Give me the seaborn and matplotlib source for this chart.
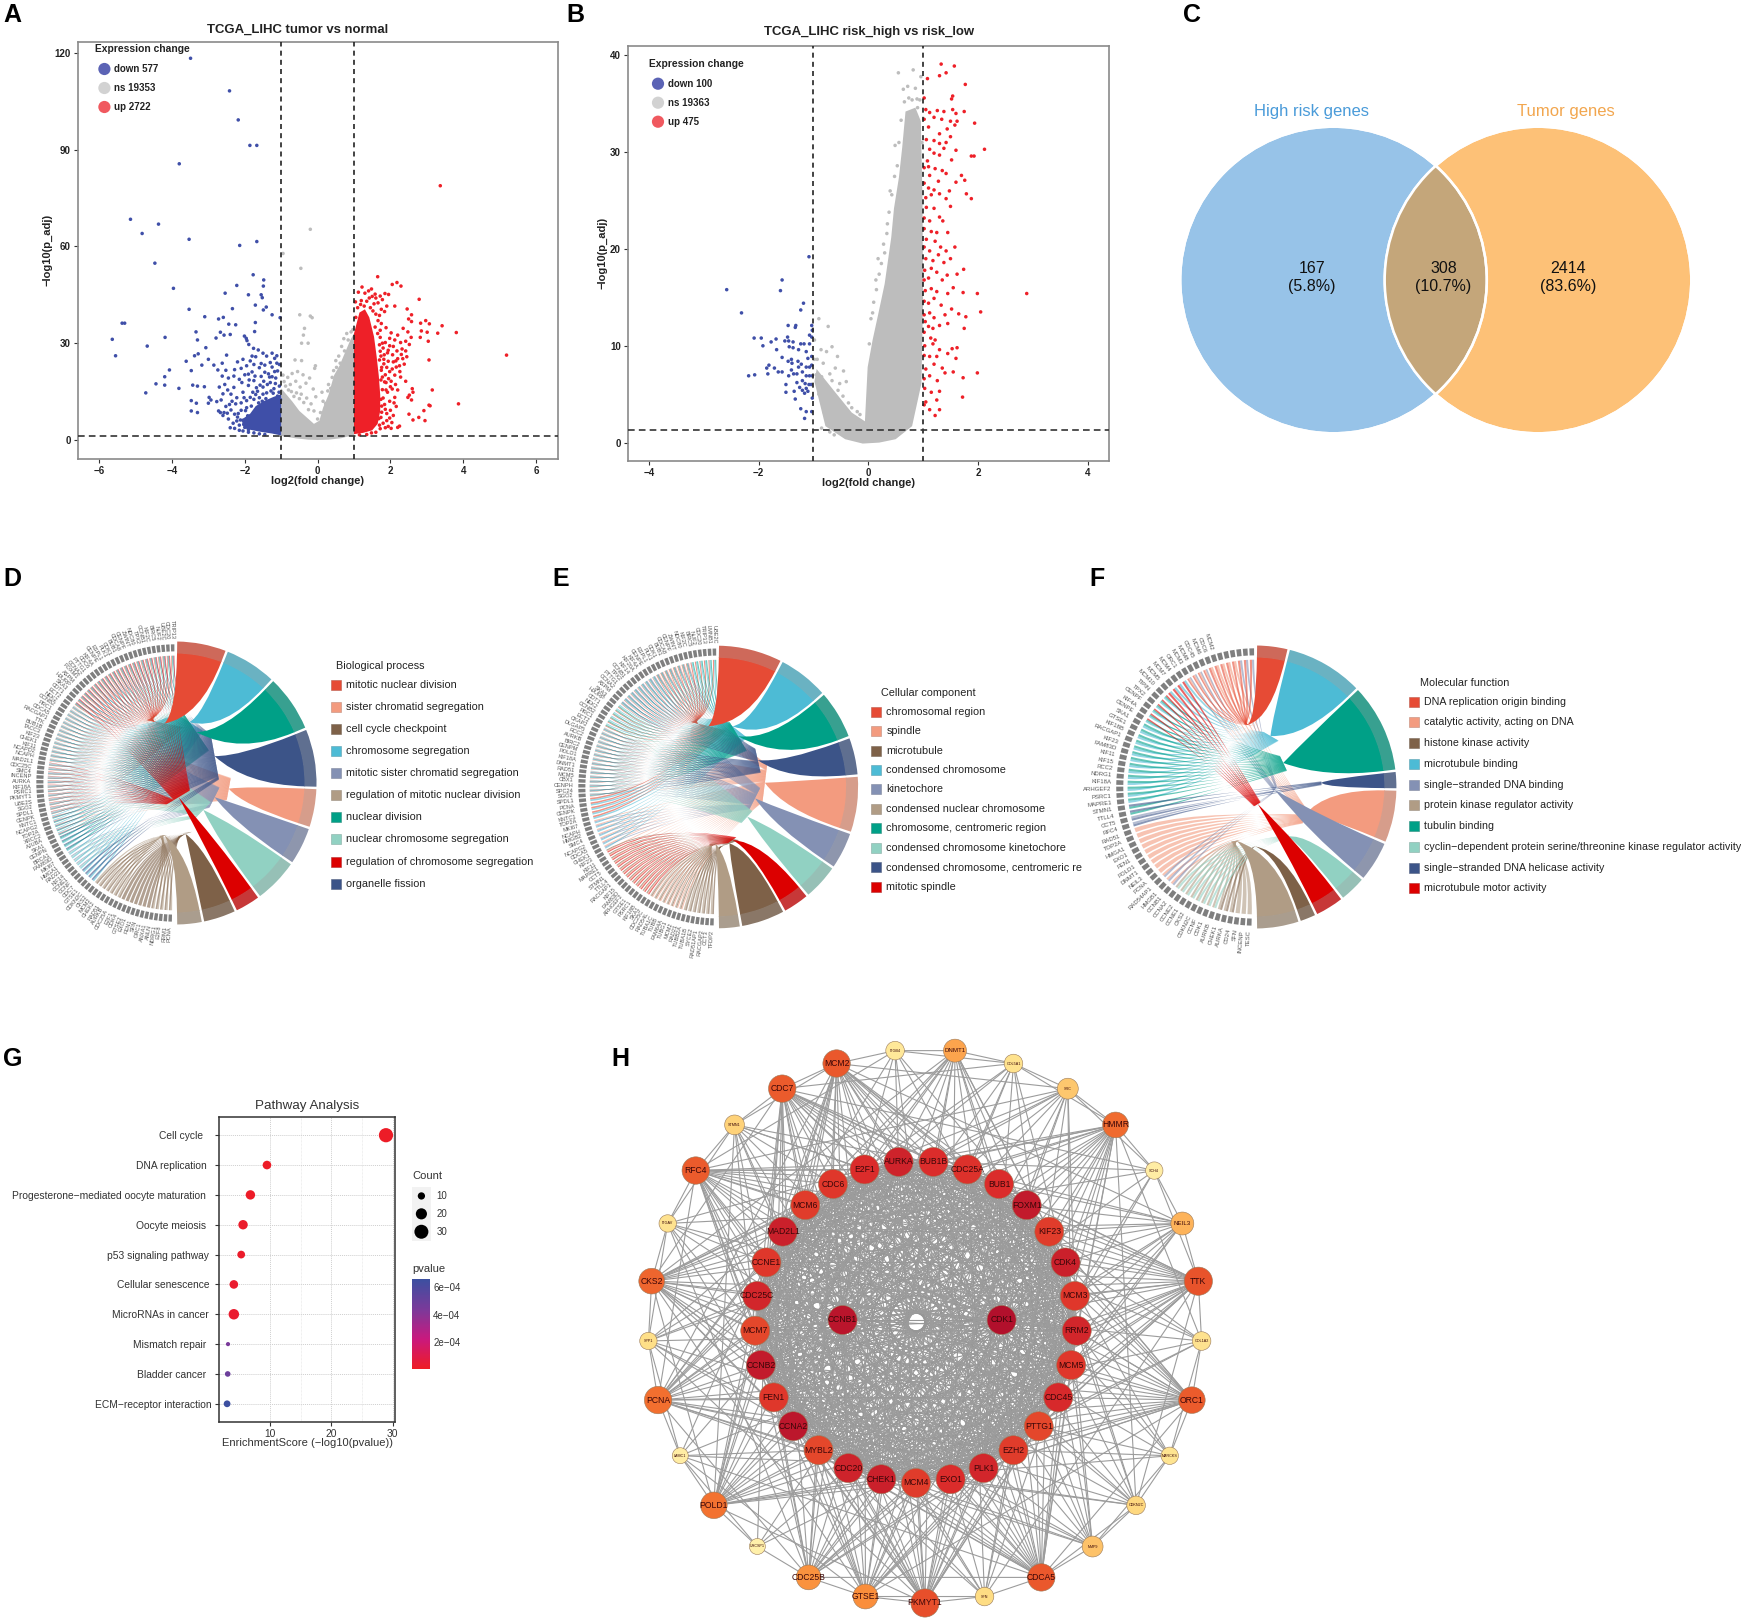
import numpy as np
import pandas as pd
import matplotlib
matplotlib.use("Agg")
import matplotlib.pyplot as plt
import seaborn as sns
from matplotlib.path import Path
from matplotlib.patches import PathPatch, Wedge, Circle, Rectangle
from matplotlib.collections import LineCollection
from matplotlib.colors import LinearSegmentedColormap, Normalize
from matplotlib.cm import ScalarMappable

# ------------------------------- DATA --------------------------------
# Panel A: outliers and sparse points (log2FC, -log10 p)
a_down = [(-3.49,118.3),(-2.42,108.2),(-2.18,99.2),(-1.86,91.3),(-1.67,91.3),(-3.8,85.6),(-5.14,68.4),(-4.37,66.9),
 (-4.82,64),(-3.53,62.2),(-1.67,61.5),(-2.14,60.3),(-4.47,54.8),(-1.77,51.2),(-1.48,49.6),(-2.22,47.9),(-1.49,47.7),
 (-3.96,47),(-2.54,45.5),(-1.9,45),(-1.55,45),(-1.52,44.1),(-1.71,41.8),(-1.41,41.2),(-1.49,40.3),(-3.53,40.5),
 (-2.34,40.7),(-1.25,38.8),(-3.1,38.2),(-2.59,38),(-2.72,37.5),(-1.03,37.9),(-1.71,36.4),(-2.44,35.9),(-2.25,35.7),
 (-5.37,36.2),(-5.3,36.2),(-3.34,33.5),(-2.67,33.4),(-2.57,32.5),(-2.4,32.7),(-1.73,33.6),(-2.79,31.6),(-2.01,32.2),
 (-1.96,31.5),(-1.94,30.8),(-5.64,31.2),(-4.19,31.8),(-3.3,31),(-1.89,29.6),(-1.76,28.4),(-1.63,27.9),(-1.5,26.9),
 (-4.68,29.1),(-3.07,28.6),(-5.55,26.1),(-3.28,26.7),(-3.38,26.1),(-2.5,26.3),(-1.25,26.9),(-1.12,26.1),(-1.18,25.3),
 (-3,25),(-3.61,24.4),(-2.62,23.8),(-2.85,23.2),(-3.18,23.2),(-4.07,21.7),(-3.47,21.5),(-2.74,21.7),(-4.2,19.6),
 (-4.2,17),(-4.44,17.4),(-3.81,16),(-4.72,14.6),(-3.43,17),(-3.3,16.7),(-3.11,16.5),(-3.47,12.2),(-3.47,9),(-3.3,8.5),
 (-3.33,11.4),(-2.98,13.2),(-2.93,12.4),(-3,11.4),(-2.77,11.9),(-2.67,8.5),(-2.57,8.5),
 (-2.55,17.2),(-2.47,15.5),(-2.38,14.2),(-2.3,16.3),(-2.22,13.1),(-2.15,18.8),(-2.1,11.5),(-2.05,14.8),(-2.0,20.2),
 (-1.95,12.2),(-1.9,16.9),(-1.85,24.5),(-1.8,21.1),(-1.75,18.4),(-1.7,25.8),(-1.65,15.1),(-1.6,22.4),(-1.55,19.7),
 (-1.5,16.4),(-1.45,23.2),(-1.4,14.6),(-1.35,20.5),(-1.3,17.8),(-1.25,22.6),(-1.2,15.9),(-1.15,19.2),(-1.1,21.4),
 (-1.05,16.7),(-2.6,7.6),(-2.52,10.4),(-2.45,6.5),(-2.38,9.3),(-2.32,5.2),(-2.25,11.2),(-2.2,7.1),(-2.15,4.6),
 (-2.1,9.2),(-2.05,6.1),(-2,3.9),(-1.95,10),(-1.9,3.2),(-1.85,13.2),(-1.75,12.6),(-1.7,14.1),(-1.6,13.1),(-1.5,14.2),
 (-2.7,16.4),(-2.6,14.3),(-2.3,19.8),(-2.2,24.2),(-2.05,25),(-1.95,23),(-1.8,26),(-1.4,26),(-1.3,24),(-1.6,1.9),(-1.45,1.7),
 (-1.02,12.5),(-1.06,14.8),(-1.1,13.6),(-1.16,17.5),(-1.22,14.5),(-1.28,15.2),(-1.32,19.5),(-1.38,17.2),(-1.42,12.8),(-1.48,18.2),
 (-1.52,12),(-1.58,17),(-1.62,11.5),(-1.68,16.2),(-1.72,19.8),(-1.78,14.8),(-1.82,10.5),(-1.88,18.6),(-1.92,7.5),(-1.98,9.1),
 (-2.02,13.1),(-2.08,17.8),(-2.12,6.2),(-2.18,8.2),(-2.22,5.9),(-2.28,8),(-2.35,12),(-2.42,11),(-2.48,8.3),(-2.65,12.4),(-2.72,9),
 (-2.4,3.8),(-2.28,3.6),(-2.15,3),(-2.05,2.8),(-1.9,2.4),(-1.75,2.2),(-1.05,23.4),(-1.12,23.8),(-1.18,21.2),(-1.25,19.6),(-1.45,21),
 (-1.55,23.7),(-1.75,23.4),(-1.9,20.4),(-2.1,22.2),(-2.28,21.8),(-2.45,19.2),(-2.62,19.8),(-2.52,21.6)]
# Panel A: dense cores of the three clouds, outlined from the picture
a_down_core = [(-1,1.4),(-1.25,2),(-1.6,2.6),(-1.95,3.4),(-2.08,4.6),(-2.05,6.6),(-1.85,8.2),(-1.7,10.5),(-1.45,12.2),(-1.2,13.4),(-1,14.2)]
a_ns_core = [(-1,1.3),(-0.6,0.5),(-0.25,0.1),(0,0),(0.3,0.1),(0.65,0.55),(1,1.6),(1,33),(0.9,31),(0.75,27),(0.6,23),
 (0.45,20),(0.3,14),(0.15,10),(0.05,6),(-0.1,5),(-0.3,7),(-0.5,9),(-0.7,12),(-1,16)]
a_up_core = [(1,1.8),(1.25,2.2),(1.5,3),(1.65,5),(1.72,9),(1.72,14),(1.68,20),(1.62,26),(1.55,32),(1.42,38),(1.3,40.5),(1.15,39.5),(1,33)]
a_ns = [(-0.2,65.3),(-0.46,53.2),(-0.95,57.8),(-0.49,38.8),(-0.2,38.4),(-0.15,37.9),(-0.36,34.6),(-0.39,32.5),(-0.26,30),
 (-0.44,30),(-0.62,24.8),(-0.44,24.6),(-0.06,23),(-0.08,22.2),(-0.55,21.2),(-0.7,20.6),(-0.4,20.2),(-0.82,19.4),(-0.22,19.2),
 (-0.92,18.1),(-0.6,18.2),(-0.32,17.6),(-0.12,15.8),(-0.75,17.2),(-0.48,16.4),(0.12,14.8),(0.28,15.2),(0.4,19.4),(0.52,22.5),
 (0.62,23.8),(0.74,27.6),(0.84,31),(0.92,33.5),(0.97,34.2),
 (-0.95,20.1),(-0.88,16.7),(-0.8,15.5),(-0.72,15),(-0.65,13.5),(-0.58,14.6),(-0.5,12.8),(-0.45,14.2),(-0.38,11.6),(-0.3,13),
 (-0.25,9.4),(-0.18,11.2),(-0.1,9),(-0.05,13.4),(0,6.5),(0.08,8.5),(0.15,12),(0.22,11.3),(0.3,17.2),(0.36,16),(0.44,21.5),
 (0.5,24.6),(0.58,26),(0.66,29),(0.72,31.4),(0.8,33)]
a_up = [(3.37,78.8),(5.19,26.3),(1.65,50.6),(2.18,48.8),(2.05,48.2),(2.29,47.7),(2.79,43.6),(2.46,40.6),(2.58,38.8),(2.5,37.5),
 (2.58,36.7),(2.97,37),(2.83,36.2),(3.07,36),(3.42,35.4),(2.85,33.8),(3.01,33.4),(3.3,33.1),(3.81,33.3),(2.82,31.8),(3.04,30.6),
 (3.06,24.8),(3.15,15.5),(3.87,11.2),(3.06,10.8),(3.09,10.6),(2.92,9.1),(2.78,7),(2.95,6),(2.62,6.2),(2.51,8),
 (1.22,47.4),(1.4,46.2),(1.48,46.8),(1.58,45.2),(1.72,44.6),(1.85,45.4),(1.95,45.1),(1.04,42.8),(1.2,43.2),(1.55,42.2),
 (1.78,43.5),(1.9,41.5),(2.12,41.5),(1.7,38.6),(1.84,39.8),(1.75,36.1),(1.88,34.8),(2.02,33.2),(2.2,32.5),(2.35,34.6),
 (2.48,33.5),(2.57,31.8),(1.72,31.8),(1.86,30.2),(1.98,29.2),(2.12,31),(2.28,30.2),(2.42,30.6),(2.52,29.6),(1.72,27.5),
 (1.83,26.4),(1.94,27.8),(2.06,26.4),(2.18,27.6),(2.32,28.2),(2.42,27.6),(1.7,24.8),(1.82,23.6),(1.94,24.4),(2.08,24.2),
 (2.2,25.2),(2.34,25.2),(2.05,22),(2.16,22.6),(1.75,21.6),(1.86,20.2),(1.98,21.2),(2.12,20.1),(2.26,21.2),(1.74,18.6),
 (1.88,17.8),(2.02,18.2),(2.14,17.2),(2.28,19.5),(2.42,18.2),(1.78,15.6),(1.92,14.8),(2.05,15.8),(2.2,15.5),(2.6,15.9),
 (2.62,14.8),(2.52,13.9),(2.58,12.4),(2.48,13.2),(1.74,12.6),(1.84,11),(1.98,12),(2.12,13.2),(2.16,10.4),(1.76,8.6),(1.9,8.2),
 (1.98,6.8),(2.04,5.4),(1.94,4.2),(2.02,3.6),(2.25,4.3),(2.2,3.9),(1.86,3.8),(1.7,4.6),(1.68,6.6),
 (1.05,38),(1.1,41),(1.18,42),(1.28,41.5),(1.35,43),(1.45,41),(1.52,40),(1.6,39),(1.66,37),(1.58,35),(1.65,33),(1.72,34),(1.7,29.5),
 (1.78,30),(1.74,26),(1.8,28.5),(1.76,22.5),(1.82,25),(1.78,19.5),(1.9,22.5),(1.84,18),(1.8,13),(1.88,15.5),(1.76,10.5),(1.86,9.5),
 (1.74,7),(1.8,5.2),(1.72,3.5),(1.6,2.4),(1.48,2.2),(1.35,1.7),(1.15,1.6),(1.92,27),(1.98,31.5),(2.08,29),(2.15,24.5),(2.25,23),
 (2.0,16.5),(2.1,11.5),(1.95,19),(2.3,26.5),(2.38,23.5),(2.45,25.8),(1.9,6),(2.0,9.2),(2.08,7.6),(1.66,42.5),(1.6,44),(1.5,44.5),
 (1.3,45.5),(1.12,45.8),(1.42,44),(1.75,40.5)]

# Panel B
b_down = [(-1.08,19.2),(-1.57,16.8),(-1.6,15.7),(-2.58,15.8),(-1.18,14.4),(-1.23,13.7),(-2.31,13.4),(-1.46,12.1),(-1.32,12.1),
 (-1.33,11.9),(-1.03,12.1),(-1.02,11.6),(-1.07,11.1),(-1.03,10.9),(-2.08,10.8),(-1.95,10.8),(-1.92,10),(-1.77,10.4),(-1.68,10.7),
 (-1.47,10.9),(-1.45,10.5),(-1.37,10.4),(-1.52,10.5),(-1.67,9.6),(-1.44,9.9),(-1.37,9.8),(-1.23,10.2),(-1.17,10.2),(-1.27,9.6),
 (-1.13,9.4),(-1.07,10.2),(-1.57,8.8),(-1.4,8.6),(-1.1,8.7),(-1.03,8.9),(-1.81,8),(-1.85,7.7),(-1.71,7.7),(-1.64,7.3),(-1.46,8.4),
 (-1.39,8.2),(-1.27,7.8),(-1.13,7.8),(-1.07,7.8),(-1.03,8),(-2.18,6.9),(-2.07,7),(-1.83,7.1),(-1.57,7.3),(-1.4,7.5),(-1.36,7.1),
 (-1.3,7.1),(-1.2,7.3),(-1.5,6),(-1.3,6.2),(-1.2,6.4),(-1.13,6.9),(-1.07,6.9),(-1.02,6.9),(-1.15,6.1),(-1.08,6),(-1.04,6),
 (-1.13,5.6),(-1.2,5.4),(-1.1,5.3),(-1.5,5.2),(-1.35,5.3),(-1.25,5.7),(-1.33,4.5),(-1.02,4.6),(-1.23,3.5),(-1.13,3.2),(-1.16,2.5),
 (-1.03,3.2),(-1.16,5.1),(-1.45,6.9),(-1.28,8.4),(-1.22,8.1)]
b_up = [(2.89,15.4),(2.12,30.3),(1.94,33),(1.57,38.9),(1.33,39.1),(1.77,37),(1.42,38.2),(1.3,37.9),(1.08,37.6),(1.54,35.8),(1.52,35.5),
 (1.02,35.6),(1.05,34.4),(1.12,34.1),(1.26,34.3),(1.38,34.2),(1.54,34.4),(1.6,34),(1.75,34.2),(1.2,33.6),(1.34,33.4),(1.5,33.2),
 (1.62,33.2),(1.02,33.4),(1.1,32.6),(1.44,32.4),(1.58,32.8),(1.3,31.9),(1.5,31.6),(1.06,31.3),(1.2,31.2),(1.3,30.9),(1.42,31),
 (1.12,30.3),(1.2,29.9),(1.38,30.4),(1.6,30.2),(1.88,29.6),(1.93,29.6),(1.08,29.1),(1.3,29.7),(1.52,29.2),(1.02,28.4),(1.1,28.5),
 (1.22,28.3),(1.35,28.1),(1.7,27.6),(1.76,27.1),(1.12,27.6),(1.28,27),(1.42,27.8),(1.6,26.9),(1.02,26.8),(1.1,26.3),(1.2,26.1),
 (1.3,25.7),(1.48,26),(1.79,25.7),(1.88,25.2),(1.05,25.3),(1.15,25.6),(1.42,25.2),(1.5,24.4),(1.06,24.3),(1.2,24.2),(1.3,23.3),
 (1.02,23.2),(1.12,22.9),(1.36,22.9),(1.45,21.7),(1.02,22.1),(1.15,21.8),(1.25,21.7),(1.06,21),(1.22,20.8),(1.32,20.2),(1.02,20.2),
 (1.12,19.8),(1.28,19.4),(1.42,19.8),(1.58,20.2),(1.05,19),(1.18,18.8),(1.38,18.6),(1.5,19),(1.74,17.9),(1.03,17.8),(1.15,18),
 (1.25,17.6),(1.62,17.4),(1.02,16.8),(1.1,17),(1.35,16.8),(1.44,17.3),(1.55,16),(1.04,15.7),(1.15,15.9),(1.25,15.6),(1.45,15.4),
 (1.73,15.5),(1.99,15.4),(1.02,14.6),(1.1,14.4),(1.2,14.9),(1.33,14.2),(1.52,13.8),(1.65,13.3),(1.02,13.2),(1.12,13.4),(1.2,12.9),
 (1.4,13.2),(1.78,13),(2.05,13.5),(1.04,12.5),(1.1,12),(1.18,11.8),(1.3,12.1),(1.45,12.3),(1.75,11.8),(1.02,11.4),(1.14,10.8),
 (1.22,10.6),(1.03,10),(1.18,10.2),(1.3,9.6),(1.53,9.7),(1.62,9.8),(1.02,9),(1.12,8.9),(1.25,8.9),(1.45,9.2),(1.6,8.7),(1.2,8.1),
 (1.05,7.6),(1.35,7.7),(1.55,7.3),(1.99,7.2),(1.73,6.7),(1.02,6.6),(1.12,6.9),(1.26,6.4),(1.4,7.2),(1.03,5.6),(1.15,5.2),(1.3,5.3),
 (1.72,4.7),(1.05,4.2),(1.25,4.4),(1.02,3.9),(1.12,3.4),(1.3,3.4),(1.22,2.8)]
b_ns_core = [(-0.1,-0.1),(-0.42,0.35),(-0.78,1.7),(-0.98,6.3),(-0.94,7.6),(-0.63,5.4),(-0.3,3.1),(-0.06,2.2),(-0.01,7.8),(0.08,10.6),(0.18,13.2),
 (0.3,16.4),(0.42,21.2),(0.47,24.2),(0.56,27.4),(0.62,30.5),(0.68,34.2),(0.86,34.6),(0.96,33.2),(0.99,25),(1,14.7),(0.97,6.1),(0.8,1.7),
 (0.5,0.35),(0.2,0)]
b_ns = [(0.55,38.2),(0.82,38.5),(0.64,36.5),(0.72,36.8),(0.86,36.6),(0.96,37.8),(0.89,35.5),(0.49,30.7),(0.53,28.6),(0.18,19),(0.28,20.5),
 (-0.9,12.8),(-0.73,12),(-0.98,10.6),(-0.66,9.9),(-0.56,8.9),(-0.86,9.6),(-0.76,9.4),(-0.93,8.6),(-0.6,7.7),(-0.45,7.4),(-0.4,6.3),(-0.52,6.1),
 (-0.7,7.1),(-0.82,8.2),(0.4,26),(0.35,22.6),(0.14,16.8),(0.08,13.4),(0.94,35.4),
 (0.02,10.2),(0.05,12.8),(0.1,14.5),(0.15,15.8),(0.2,17.4),(0.24,18.5),(0.3,19.6),(0.34,21.6),(0.38,23.8),(0.43,25.6),(0.48,27.5),(0.56,31),
 (0.6,33.3),(0.66,35.2),(0.74,35.6),(0.8,35.4),(0.9,34.6),(0.98,31),(-0.98,8.6),(-0.95,7),(-0.9,5),(-0.85,6.8),(-0.78,5.9),(-0.72,3.8),(-0.66,6.4),
 (-0.6,4.2),(-0.55,5.4),(-0.5,3),(-0.46,4.8),(-0.4,2.4),(-0.36,4.1),(-0.3,3.6),(-0.25,1.6),(-0.2,3.2),(-0.15,2.9),(-0.85,1.5),(-0.7,1.1),(-0.62,0.8),(-0.8,3.1)]

a_counts = ["down 577", "ns 19353", "up 2722"]
b_counts = ["down 100", "ns 19363", "up 475"]

# Panel C
venn_sets = ["High risk genes", "Tumor genes"]
venn_labels = ["167\n(5.8%)", "308\n(10.7%)", "2414\n(83.6%)"]

# Panels D, E, F: term names in sector order, sector widths in degrees, legend order
npg = ["#E64B35", "#4DBBD5", "#00A087", "#3C5488", "#F39B7F", "#8491B4", "#91D1C2", "#DC0000", "#7E6148", "#B09C85"]
d_terms = ["mitotic nuclear division", "chromosome segregation", "nuclear division", "organelle fission", "sister chromatid segregation",
           "mitotic sister chromatid segregation", "nuclear chromosome segregation", "regulation of chromosome segregation",
           "cell cycle checkpoint", "regulation of mitotic nuclear division"]
d_widths = [21, 22, 24, 24.5, 16.5, 16, 19, 11, 14, 11]
d_legend = [0, 4, 8, 1, 5, 9, 2, 6, 7, 3]
d_tips = [(-0.075,0.42),(0.10,0.43),(0.15,0.36),(0.28,0.19),(0.38,-0.04),(0.28,-0.10),(0.2,-0.19),(0.025,-0.10),(0.075,-0.36),(-0.075,-0.37)]
d_genes = ["TRIP13","CDC20","UBE2C","NUF2","BIRC5","KIF2C","CCNB1","TPX2","NDC80","ZWINT","CENPF","CDCA8","BUB1","CDK1","PLK1","ESPL1","CENPE","KIF4A",
 "CDC6","PTTG1","CCNA2","FOXM1","ASPM","HJURP","SKA3","CDT1","ECT2","NEK2","CCNB2","PRC1","CDCA5","RACGAP1","TTK","BUB1B","TACC3","KIF23","CHEK1","KIF11",
 "NCAPD2","NCAPH","MAD2L1","CDC25C","SMC4","INCENP","AURKA","KIF18A","PSRC1","PKMYT1","UBE2S","SGO2","SPDL1","CENPK","KNTC1","NCAPG2","TOP2A","XRCC2",
 "AJUBA","SKA1","CENPN","BRCA1","FAM83D","MKI67","HMGA1","RAD21","KIF14","CCNE1","CCNF","CDC7","GTSE1","CDKN2C","CKS2","MCM2","CHEK2","RAD51",
 "AURKB","CDC25A","E2F1","CDK4","GTSE2","EXO1","FEN1","SFN","ORC1","ANXA1","ANLN","NDRG1","E2F8","RRM1","PCNA"]
d_runs = [(26, [0, 2, 3, 7]), (14, [0, 1, 2, 3, 4, 5, 6]), (12, [0, 2, 3, 1, 4, 5, 6, 7]), (5, [2, 3, 4, 1]), (4, [1, 2, 3]),
          (5, [1, 6, 5]), (4, [1, 3]), (7, [8, 9]), (7, [8]), (5, [9, 8])]
e_terms = ["chromosomal region", "condensed chromosome", "chromosome, centromeric region", "condensed chromosome, centromeric re", "spindle",
           "kinetochore", "condensed chromosome kinetochore", "mitotic spindle", "microtubule", "condensed nuclear chromosome"]
e_widths = [26.9, 21.5, 20.6, 16, 23.6, 15.8, 15.4, 11.4, 18.6, 9.5]
e_legend = [0, 4, 8, 1, 5, 9, 2, 6, 3, 7]
e_tips = [(-0.06,0.43),(0.11,0.43),(0.15,0.36),(0.29,0.19),(0.34,0.03),(0.27,-0.08),(0.215,-0.21),(0.11,-0.375),(0.09,-0.40),(-0.01,-0.40)]
e_genes = ["UBE2C","LMNB1","TRIP13","CDC20","NUF2","BIRC5","KIF2C","NDC80","ZWINT","CENPF","CDCA8","BUB1","CDK1","PLK1","ESPL1","CENPE","KIF4A","KIF20A",
 "KIF14","CCNB1","TPX2","PTTG1","CCNA2","ASPM","SKA3","HJURP","CDT1","NEK2","CCNB2","PRC1","ECT2","CKAP2","DLGAP5","RCC2","AURKB","BIRC2","CENPM","POLD1",
 "KIF18A","DNMT1","RAD51","MCM5","CBX1","CENPH","SPC24","SGO2","SPDL1","PCNA","CENPK","KNTC1","TOP2A","MKI67","NCAPH","HMGB2","SMC4","NCAPG2","CDCA5",
 "CHEK1","KIF23","KIF11","MAPRE1","CCT5","STMN1","TTLL4","RACGAP1","KIF15","FAM83D","ARHGEF2","GTSE1","PSRC1","KIF18B","SKA1","CDC25C","RAD54L","TUBA1C",
 "TUBB","FAM64A","TUBG1","MCM2","RAD21","TUBB2A","TUBA1B","SYCE2","RAD51AP1","RACGAP2","CCT3","TFDP2"]
e_runs = [(6, [0, 1, 2]), (8, [0, 2, 3, 4]), (10, [0, 1, 2, 3, 5]), (6, [0, 2, 6, 1]), (16, [0, 1, 2, 3, 4, 5, 6]), (5, [1, 0]),
          (7, [1, 5, 4]), (5, [7, 4, 8]), (9, [7, 4, 8]), (8, [4, 8, 9]), (7, [8, 9])]
f_terms = ["DNA replication origin binding", "microtubule binding", "tubulin binding", "single\u2212stranded DNA helicase activity",
           "catalytic activity, acting on DNA", "single\u2212stranded DNA binding",
           "cyclin\u2212dependent protein serine/threonine kinase regulator activity", "microtubule motor activity",
           "histone kinase activity", "protein kinase regulator activity"]
f_widths = [13.4, 32.4, 37.1, 7.6, 22.2, 17.2, 11.5, 12.4, 7.2, 18]
f_legend = [0, 4, 8, 1, 5, 9, 2, 6, 3, 7]
f_tips = [(-0.05,0.44),(0.11,0.36),(0.2,0.17),(0.47,0.03),(0.35,-0.2),(0.14,-0.02),(0.23,-0.35),(0.02,-0.12),(0,-0.42),(-0.13,-0.38)]
f_genes = ["MCM2","CDC6","MCM6","CDC45","MCM8","MCM3","ORC1","MCM4","MCM7","MCM5","MCM10","TIPIN","TPX2","CENPF","KIF4A","CENPE","SKA1","GTSE1","KIF18B",
 "RACGAP1","KIF23","FAM83D","KIF11","KIF15","RCC2","NDRG1","KIF18A","ARHGEF2","PSRC1","MAPRE1","STMN1","TTLL4","CCT5","RFC4","RAD51","TOP2A","HMGA1",
 "EXO1","FEN1","POLD1","DNMT1","NEIL3","PCNA","RAD54AP1","HMGB1","CCNB1","CCNA2","CCNE2","CCNE1","CKS2","CDKN2C","CCNF","CDK1","AURKB","CHEK1","AURKA","CD24","SFN","INCENP","TESC"]
f_runs = [(3, [0, 5]), (5, [0, 4]), (4, [0, 4, 5]), (4, [7, 1]), (6, [1, 2, 7]), (6, [1, 2]), (8, [1, 2]), (2, [2, 3]), (2, [3, 5]), (9, [4]),
          (3, [5, 4]), (8, [6, 9]), (3, [8, 9]), (3, [9])]

# Panel G
pathways = ["Cell cycle   ", "DNA replication  ", "Progesterone\u2212mediated oocyte maturation  ", "Oocyte meiosis  ", "p53 signaling pathway ",
            "Cellular senescence ", "MicroRNAs in cancer ", "Mismatch repair  ", "Bladder cancer  ", "ECM\u2212receptor interaction"]
enrichment = [28.9, 9.5, 6.8, 5.6, 5.3, 4.1, 4.1, 3.15, 3.1, 3.0]
pvalues = [1e-5, 1e-5, 1.2e-5, 2e-5, 2e-5, 3e-5, 3e-5, 4.4e-4, 4.9e-4, 6.6e-4]
path_counts = [31, 13, 15, 15, 11, 13, 18, 5, 7, 9]
count_legend = [10, 20, 30]

# Panel H: circular network, clockwise from the top; degree drives colour, weight drives node size
inner_genes = ["AURKA","BUB1B","CDC25A","BUB1","FOXM1","KIF23","CDK4","MCM3","RRM2","MCM5","CDC45","PTTG1","EZH2","PLK1","EXO1","MCM4","CHEK1","CDC20",
               "MYBL2","CCNA2","FEN1","CCNB2","MCM7","CDC25C","CCNE1","MAD2L1","MCM6","CDC6","E2F1"]
inner_degree = [86,80,78,80,92,74,88,76,84,76,82,70,74,84,80,74,88,86,70,95,76,92,70,84,76,88,74,76,80]
hub_genes = ["CCNB1", "CDK1"]
hub_degree = [96, 100]
outer_genes = ["ITGB4","DNMT1","COL5A1","SRC","HMMR","SCH4","NEIL3","TTK","COL1A2","ORC1","MARCKS","CDKN2C","MMP9","CDCA5","SFN","PKMYT1","GTSE1",
               "CDC25B","UHCSP1","POLD1","LAMC1","PCNA","SPP1","CKS2","ITGAV","RFC4","STMN1","CDC7","MCM2"]
outer_degree = [10,40,16,28,58,5,35,66,15,63,14,22,30,64,20,67,47,46,2,56,5,57,18,60,15,63,24,63,64]
outer_weight = [18,22,18,20,25,17,22,28,18,26,17,18,20,27,18,28,24,24,16,26,16,27,17,25,17,27,19,27,27]
inner_weight = 29

W, H = 1741, 1618
# ---------------------------------------------------------------------
sns.set_theme(style="white")
plt.rcParams["font.family"] = ["Liberation Sans", "DejaVu Sans"]
plt.rcParams["axes.unicode_minus"] = True
fig = plt.figure(figsize=(W / 100, H / 100), dpi=100, facecolor="white")


def px_axes(l, t, r, b, **kw):
    return fig.add_axes([l / W, 1 - b / H, (r - l) / W, (b - t) / H], **kw)


pix = px_axes(0, 0, W, H, zorder=20)
pix.set_xlim(0, W)
pix.set_ylim(H, 0)
pix.axis("off")
pix.patch.set_alpha(0)

for letter, x, y in [("A", 3, 15), ("B", 566, 15), ("C", 1183, 15), ("D", 3, 579), ("E", 552, 579), ("F", 1089, 579), ("G", 3, 1059), ("H", 611, 1059)]:
    pix.text(x, y, letter, fontsize=18, fontweight="bold", color="black", va="center", ha="left")


def volcano(box, xlim, ylim, xticks, yticks, title, down, ns, up, cores, names, title_xy, xlab_y, ylab_x, leg):
    ax = px_axes(*box)
    for core, col in cores:
        ax.fill(*zip(*core), color=col, lw=0, zorder=1)
    frame = pd.concat([pd.DataFrame(p, columns=["lfc", "sig"]).assign(change=g) for p, g in [(ns, "ns"), (down, "down"), (up, "up")]])
    sns.scatterplot(data=frame, x="lfc", y="sig", hue="change", palette={"down": "#3F4FA8", "ns": "#BDBDBD", "up": "#EE2028"},
                    s=6.5, linewidth=0, legend=False, ax=ax, zorder=2)
    ax.axvline(-1, color="#222222", lw=1.2, dashes=(3, 2.5), zorder=3)
    ax.axvline(1, color="#222222", lw=1.2, dashes=(3, 2.5), zorder=3)
    ax.axhline(1.3, color="#333333", lw=1.2, dashes=(4, 2.5), zorder=3)
    ax.set_xlim(*xlim)
    ax.set_ylim(*ylim)
    ax.set_xticks(xticks)
    ax.set_yticks(yticks)
    ax.set_xlabel("")
    ax.set_ylabel("")
    ax.tick_params(left=True, bottom=True, length=3, width=0.8, color="#333333", labelsize=7, pad=2, labelcolor="#222222")
    for lab in ax.get_xticklabels() + ax.get_yticklabels():
        lab.set_fontweight("bold")
    for s in ax.spines.values():
        s.set_color("#8a8a8a")
        s.set_linewidth(1.2)
    cx = (box[0] + box[2]) / 2
    pix.text(title_xy[0], title_xy[1], title, fontsize=9.45, fontweight="bold", ha="center", va="center", color="#222222")
    pix.text(cx, xlab_y, "log2(fold change)", fontsize=8, fontweight="bold", ha="center", va="center", color="#222222")
    pix.text(ylab_x, (box[1] + box[3]) / 2, "\u2212log10(p_adj)", fontsize=8, fontweight="bold", rotation=90, ha="center", va="center", color="#222222")
    lx, ly0 = leg
    pix.text(lx, ly0, "Expression change", fontsize=7.4, fontweight="bold", va="center", color="#222222")
    for i, (name, col) in enumerate(zip(names, ["#5B63B5", "#D2D2D2", "#F0595F"])):
        y = ly0 + 19.7 + i * 19
        pix.add_patch(Circle((lx + 9, y), 6.1, color=col, lw=0))
        pix.text(lx + 19, y, name, fontsize=7, fontweight="bold", va="center", color="#222222")
    return ax


volcano((77.7, 41.5, 557.5, 458.7), (-6.59, 6.59), (-5.8, 123.5), [-6, -4, -2, 0, 2, 4, 6], [0, 30, 60, 90, 120],
        "TCGA_LIHC tumor vs normal", a_down, a_ns, a_up,
        [(a_ns_core, "#BDBDBD"), (a_down_core, "#3F4FA8"), (a_up_core, "#EE2028")], a_counts, (298, 30), 481, 47, (95.4, 49.3))
volcano((627.7, 45.7, 1109, 461), (-4.385, 4.39), (-1.9, 41.0), [-4, -2, 0, 2, 4], [0, 10, 20, 30, 40],
        "TCGA_LIHC risk_high vs risk_low", b_down, b_ns, b_up, [(b_ns_core, "#BDBDBD")], b_counts, (869, 32), 483, 602.5, (649, 64))

# ---- Venn ----
venn = px_axes(1160, 100, 1720, 460)
venn.set_xlim(1160, 1720)
venn.set_ylim(460, 100)
venn.axis("off")
venn.add_patch(Circle((1333.5, 280), 153.3, fc="#97C3E8", ec="white", lw=1.8, zorder=1))
venn.add_patch(Circle((1538, 280), 153.3, fc="#FDC177", ec="white", lw=1.8, zorder=2))
lens = Circle((1333.5, 280), 153.3, fc="#C4A67A", ec="white", lw=1.8, zorder=3)
venn.add_patch(lens)
lens.set_clip_path(Circle((1538, 280), 153.3, transform=venn.transData))
venn.add_patch(Circle((1538, 280), 153.3, fc="none", ec="white", lw=1.8, zorder=4))
venn.add_patch(Circle((1333.5, 280), 153.3, fc="none", ec="white", lw=1.8, zorder=4))
pix.text(1311, 111, venn_sets[0], fontsize=12, color="#4A9BD9", ha="center", va="center")
pix.text(1565.6, 111, venn_sets[1], fontsize=12, color="#F2A64E", ha="center", va="center")
for x, lab in zip((1312, 1443.4, 1568), venn_labels):
    pix.text(x, 277.5, lab, fontsize=11.5, ha="center", va="center", color="#111111", linespacing=1.3)


# ---- Chord diagrams ----
def pol(a, r):
    t = np.radians(a)
    return (r * np.sin(t), r * np.cos(t))


def mix(col, other="#a0a0a0", f=0.35):
    c, o = np.array(matplotlib.colors.to_rgb(col)), np.array(matplotlib.colors.to_rgb(other))
    return tuple(c * (1 - f) + o * f)


def chord(cx, cy, r, terms, widths, tips, legend_order, genes, runs, title, title_x, leg_x, title_y, first_y, step, label_fs, leg_fs):
    half = 230
    ax = px_axes(cx - half, cy - half, cx + half, cy + half)
    lim = half / r
    ax.set_xlim(-lim, lim)
    ax.set_ylim(-lim, lim)
    ax.axis("off")
    memberships = []
    for n, ts in reversed(runs):
        memberships += [ts] * n
    n_g = len(memberships)
    names = list(reversed(genes))[:n_g] + [""] * max(0, n_g - len(genes))
    cell = 179.0 / n_g
    g_start = 181.0
    scale = 179.2 / sum(widths)
    starts = np.concatenate([[0.4], 0.4 + np.cumsum(np.array(widths) * scale)])
    ribbons = {t: [] for t in range(10)}
    for i, ts in enumerate(memberships):
        a0 = g_start + i * cell + cell * 0.15
        span = cell * 0.72 / len(ts)
        for k, t in enumerate(ts):
            ribbons[t].append((a0 + k * span, a0 + (k + 1) * span))
        ax.add_patch(Wedge((0, 0), 0.98, 90 - (a0 + cell * 0.72), 90 - a0, width=0.05, fc="#7f7f7f", ec="none"))
        mid = a0 + cell * 0.36
        x, y = pol(mid, 1.015)
        ax.text(x, y, names[i], fontsize=label_fs, color="#555555", rotation=270 - mid, rotation_mode="anchor", ha="right", va="center")
    # strands from each gene to the tip of its term's bundle
    for t in [9, 8, 4, 5, 6, 0, 1, 2, 3, 7]:
        tip = np.array(tips[t])
        rb = sorted(ribbons[t], key=lambda v: -v[0])
        mean_a = np.radians((starts[t] + starts[t + 1]) / 2)
        tang = np.array([np.cos(mean_a), -np.sin(mean_a)])
        for j, (g0, g1) in enumerate(rb):
            e0 = tip + tang * (j - len(rb) / 2) * 0.005
            e1 = e0 + tang * 0.012
            verts = [pol(g0, 0.90), pol(g0, 0.5), tuple(e0), tuple(e1), pol(g1, 0.5), pol(g1, 0.90), pol(g0, 0.90)]
            codes = [Path.MOVETO, Path.CURVE3, Path.CURVE3, Path.LINETO, Path.CURVE3, Path.CURVE3, Path.CLOSEPOLY]
            ax.add_patch(PathPatch(Path(verts, codes), fc=npg[t], ec="none", alpha=0.6, zorder=2, lw=0))
    # term sectors with their solid bundles
    for t in [9, 8, 4, 5, 6, 0, 1, 2, 3, 7]:
        s0, s1 = starts[t] + 0.5, starts[t + 1] - 0.5
        tip = tuple(tips[t])
        arc = np.linspace(s0, s1, 16)
        verts = [pol(arc[0], 0.92), pol(arc[0], 0.5), tip, pol(arc[-1], 0.5), pol(arc[-1], 0.92)]
        codes = [Path.MOVETO, Path.CURVE3, Path.CURVE3, Path.CURVE3, Path.CURVE3]
        verts += [pol(a, 0.92) for a in arc[::-1][1:]] + [pol(arc[0], 0.92)]
        codes += [Path.LINETO] * 15 + [Path.CLOSEPOLY]
        ax.add_patch(PathPatch(Path(verts, codes), fc=npg[t], ec="none", lw=0, zorder=3 + (t == 7)))
        ax.add_patch(Wedge((0, 0), 1.0, 90 - s1, 90 - s0, width=0.085, fc=mix(npg[t]), ec="none", zorder=5))
    pix.text(title_x, title_y, title, fontsize=7.8, va="center", color="#222222")
    for i, t in enumerate(legend_order):
        y = first_y + i * step
        pix.add_patch(Rectangle((leg_x, y - 5), 10, 10, fc=npg[t], ec=mix(npg[t], "#777777", 0.4), lw=0.4))
        pix.text(leg_x + 15, y, terms[t], fontsize=leg_fs, va="center", color="#222222")


chord(175, 783, 141.5, d_terms, d_widths, d_tips, d_legend, d_genes, d_runs, "Biological process", 336.4, 331.4, 666, 684.7, 22.1, 4.1, 7.8)
chord(716.8, 787, 141.3, e_terms, e_widths, e_tips, e_legend, e_genes, e_runs, "Cellular component", 881, 871.4, 693.3, 711.7, 19.44, 4.1, 7.8)
chord(1254.9, 787, 141.5, f_terms, f_widths, f_tips, f_legend, f_genes, f_runs, "Molecular function", 1420.5, 1408.5, 682.7, 701.7, 20.74, 4.3, 7.65)

# ---- Pathway dot plot ----
p_cmap = LinearSegmentedColormap.from_list("p", ["#EE1C25", "#C9197E", "#7A3A9A", "#3C4FA0"])
p_norm = Normalize(4e-6, 6.6e-4)
gax = px_axes(219.3, 1117.3, 395, 1421.7)
gdf = pd.DataFrame({"path": pathways, "score": enrichment, "p": pvalues, "n": path_counts})
size_range = (9, 105)
gax.grid(True, which="major", color="#cfcfcf", lw=0.7, ls=(0, (1, 1)))
gax.set_axisbelow(True)
sns.scatterplot(data=gdf, x="score", y="path", hue="p", hue_norm=p_norm, palette=p_cmap, size="n", size_norm=(5, 31), sizes=size_range,
                linewidth=0, legend=False, ax=gax, zorder=3)
gax.set_xlim(1.73, 30.37)
gax.set_ylim(9.6, -0.6)
gax.set_xticks([10, 20, 30])
gax.set_xticks([15, 25], minor=True)
gax.grid(True, which="minor", axis="x", color="#e2e2e2", lw=0.5, ls=(0, (1, 1)))
gax.set_xlabel("")
gax.set_ylabel("")
gax.tick_params(left=True, bottom=True, length=3, width=0.8, labelsize=7.4, pad=2.2, color="#333333", labelcolor="#333333")
gax.tick_params(axis="x", which="minor", length=0)
for s in gax.spines.values():
    s.set_color("#333333")
    s.set_linewidth(1.1)
pix.text(307, 1106.5, "Pathway Analysis", fontsize=9.6, ha="center", va="center", color="#333333")
pix.text(307, 1443.5, "EnrichmentScore (\u2212log10(pvalue))", fontsize=8, ha="center", va="center", color="#333333")
pix.text(412.7, 1176, "Count", fontsize=8, va="center", color="#333333")
pix.text(412.7, 1269, "pvalue", fontsize=8, va="center", color="#333333")
keyax = px_axes(412.3, 1187, 430.5, 1240.7, facecolor="#f2f2f2")
sns.scatterplot(x=[0, 0, 0], y=[0, 1, 2], size=count_legend, size_norm=(5, 31), sizes=size_range, color="black", linewidth=0, legend=False, ax=keyax)
keyax.set_xlim(-1, 1)
keyax.set_ylim(2.5, -0.5)
keyax.set_xticks([])
keyax.set_yticks([])
for s in keyax.spines.values():
    s.set_visible(False)
keyax.set_xlabel("")
for i, c in enumerate(count_legend):
    pix.text(436.7, 1196 + i * 18, str(c), fontsize=7, va="center", color="#333333")
cax = px_axes(412.3, 1279.3, 430.3, 1368.7)
cb = fig.colorbar(ScalarMappable(norm=p_norm, cmap=p_cmap), cax=cax)
cb.outline.set_visible(False)
cb.set_ticks([2e-4, 4e-4, 6e-4])
cb.set_ticklabels(["2e\u221204", "4e\u221204", "6e\u221204"])
cb.ax.tick_params(length=0, labelsize=7, pad=2, colors="#333333")

# ---- Network ----
net = px_axes(620, 1030, 1240, 1618)
net.set_xlim(620, 1240)
net.set_ylim(1618, 1030)
net.axis("off")


def ring(n, cx, cy, r):
    a = np.radians(-6.2 + np.arange(n) * 360.0 / n)
    return np.c_[cx + r * np.sin(a), cy - r * np.cos(a)]


pi = ring(len(inner_genes), 916, 1322, 161)
po = ring(len(outer_genes), 925, 1326, 277)
ph = np.array([[842.6, 1320], [1001.6, 1320]])
segs = []
allin = np.vstack([pi, ph])
for i in range(len(allin)):
    for j in range(i + 1, len(allin)):
        segs.append((allin[i], allin[j]))
net.add_collection(LineCollection(segs, colors="#969696", linewidths=0.8, zorder=1))
segs = []
nin = len(pi)
no = len(po)
for j, d in enumerate(outer_degree):
    k = int(round(d / 100 * 30)) + 3
    for m in range(k):
        segs.append((po[j], pi[(j * 5 + int(m * nin / k)) % nin]))
    segs.append((po[j], po[(j + 1) % no]))
    if d > 45:
        segs.append((po[j], po[(j + 4) % no]))
        segs.append((po[j], po[(j + 7) % no]))
    if d < 30:
        segs.append((po[j], po[(j + 2) % no]))
net.add_collection(LineCollection(segs, colors="#9c9c9c", linewidths=0.8, zorder=1))
net_cmap = LinearSegmentedColormap.from_list("deg", [(0, "#FFF2AE"), (0.2, "#FEDD84"), (0.35, "#FDB35A"), (0.5, "#F98533"), (0.65, "#E9552B"), (0.8, "#DB2C2B"), (1, "#B2102C")])
nodes = pd.DataFrame({
    "x": np.r_[po[:, 0], pi[:, 0], ph[:, 0]], "y": np.r_[po[:, 1], pi[:, 1], ph[:, 1]],
    "deg": outer_degree + inner_degree + hub_degree,
    "w": outer_weight + [inner_weight] * (len(inner_genes) + len(hub_genes)),
    "name": outer_genes + inner_genes + hub_genes})
sns.scatterplot(data=nodes, x="x", y="y", hue="deg", hue_norm=(0, 100), palette=net_cmap, size="w", size_norm=(16, 29),
                sizes=((16 * .72) ** 2, (29 * .72) ** 2), edgecolor="#9a7a5a", linewidth=0.4, legend=False, ax=net, zorder=3)
net.set_xlim(620, 1240)
net.set_ylim(1618, 1030)
for _, row in nodes.iterrows():
    fs = 6.2 if row.w >= 24 else (4.4 if row.w >= 21 else 2.7)
    net.text(row.x, row.y, row["name"], fontsize=fs, ha="center", va="center", color="#3a0608", zorder=4)

fig.savefig("out.png", dpi=100, facecolor="white")
